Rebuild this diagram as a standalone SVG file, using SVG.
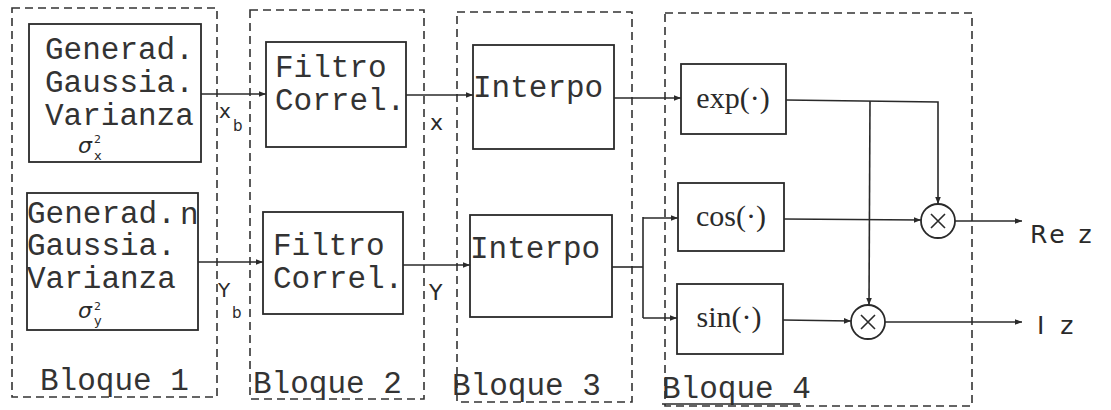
<svg xmlns="http://www.w3.org/2000/svg" width="1111" height="410" viewBox="0 0 1111 410">
<defs>
<style>
.blk{fill:none;stroke:#333;stroke-width:1.6;stroke-dasharray:8 5}
.box{fill:none;stroke:#2a2a2a;stroke-width:1.8}
.ln{fill:none;stroke:#2a2a2a;stroke-width:1.6}
.mono{font-family:"Liberation Mono","DejaVu Sans Mono",monospace;font-size:31px;fill:#333}
.math{font-family:"Liberation Serif","DejaVu Serif",serif;font-size:30px;fill:#2a2a2a}
.hand{font-family:"DejaVu Sans",sans-serif;fill:#2a2a2a}
</style>
<marker id="ah" viewBox="0 0 10 10" refX="10" refY="5" markerWidth="9" markerHeight="7" orient="auto" markerUnits="userSpaceOnUse">
<path d="M0,1 L10,5 L0,9 Z" fill="#2a2a2a"/>
</marker>
</defs>
<rect width="1111" height="410" fill="#ffffff"/>

<g id="bloque1">
<rect class="blk" x="12" y="8" width="205" height="389"/>
<text class="mono" x="40" y="390">Bloque 1</text>
</g>
<g id="bloque2">
<rect class="blk" x="250" y="10" width="174" height="389"/>
<text class="mono" x="253" y="393">Bloque 2</text>
</g>
<g id="bloque3">
<rect class="blk" x="457" y="12" width="175" height="390"/>
<text class="mono" x="452" y="395">Bloque 3</text>
</g>
<g id="bloque4">
<rect class="blk" x="665" y="13" width="307" height="393"/>
<text class="mono" x="662" y="398">Bloque 4</text>
<line class="ln" x1="662" y1="404" x2="800" y2="404" stroke-width="1.2"/>
</g>

<g id="gen1">
<rect class="box" x="29" y="24" width="172" height="138"/>
<text class="mono" x="45" y="59">Generad.</text>
<text class="mono" x="45" y="92">Gaussia.</text>
<text class="mono" x="45" y="125">Varianza</text>
<text class="hand" x="78" y="153" font-size="22" font-style="italic">σ<tspan dx="2" dy="-10" font-size="11" font-style="normal">2</tspan><tspan dx="-7" dy="17" font-size="13" font-style="normal">x</tspan></text>
</g>
<g id="gen2">
<rect class="box" x="27" y="193" width="171" height="137"/>
<text class="mono" x="27" y="223">Generad.</text>
<text class="mono" x="27" y="255">Gaussia.</text>
<text class="mono" x="27" y="288">Varianza</text>
<text class="mono" x="180" y="224" font-size="24">n</text>
<text class="hand" x="78" y="318" font-size="22" font-style="italic">σ<tspan dx="2" dy="-8" font-size="11" font-style="normal">2</tspan><tspan dx="-7" dy="15" font-size="13" font-style="normal">y</tspan></text>
</g>

<g id="filtro1">
<rect class="box" x="266" y="42" width="140" height="105"/>
<text class="mono" x="275" y="77">Filtro</text>
<text class="mono" x="275" y="110">Correl.</text>
</g>
<g id="filtro2">
<rect class="box" x="263" y="212" width="140" height="102"/>
<text class="mono" x="273" y="255">Filtro</text>
<text class="mono" x="273" y="288">Correl.</text>
</g>

<g id="interp1">
<rect class="box" x="473" y="45" width="141" height="104"/>
<text class="mono" x="473" y="97">Interpo</text>
</g>
<g id="interp2">
<rect class="box" x="470" y="215" width="142" height="102"/>
<text class="mono" x="470" y="258">Interpo</text>
</g>

<g id="exp">
<rect class="box" x="681" y="64" width="105" height="70"/>
<text class="math" x="733" y="108" text-anchor="middle">exp(·)</text>
</g>
<g id="cos">
<rect class="box" x="678" y="183" width="106" height="68"/>
<text class="math" x="731" y="226" text-anchor="middle">cos(·)</text>
</g>
<g id="sin">
<rect class="box" x="677" y="284" width="106" height="70"/>
<text class="math" x="729" y="327" text-anchor="middle">sin(·)</text>
</g>

<g id="mult1">
<circle class="box" cx="938" cy="221" r="17"/>
<path class="ln" d="M931,214 L945,228 M945,214 L931,228" stroke-width="1.3"/>
</g>
<g id="mult2">
<circle class="box" cx="868" cy="322" r="17"/>
<path class="ln" d="M861,315 L875,329 M875,315 L861,329" stroke-width="1.3"/>
</g>

<g id="labels">
<text class="hand" x="219" y="118" font-size="20">x</text>
<text class="hand" x="233" y="131" font-size="15">b</text>
<text class="hand" x="218" y="297" font-size="20">Y</text>
<text class="hand" x="232" y="318" font-size="15">b</text>
<text class="hand" x="430" y="130" font-size="22">x</text>
<text class="hand" x="429" y="300" font-size="22">Y</text>
<text class="hand" x="1030" y="243" font-size="25" letter-spacing="3">Re z</text>
<text class="hand" x="1037" y="334" font-size="25" letter-spacing="4">I z</text>
</g>

<g id="connectors">
<line class="ln" x1="201" y1="94" x2="266" y2="94" marker-end="url(#ah)"/>
<line class="ln" x1="198" y1="262" x2="263" y2="262" marker-end="url(#ah)"/>
<line class="ln" x1="406" y1="95" x2="473" y2="95" marker-end="url(#ah)"/>
<line class="ln" x1="403" y1="265" x2="470" y2="265" marker-end="url(#ah)"/>
<line class="ln" x1="614" y1="98" x2="681" y2="98" marker-end="url(#ah)"/>
<polyline class="ln" points="612,267 643,267"/>
<line class="ln" x1="643" y1="217" x2="643" y2="318"/>
<line class="ln" x1="643" y1="218" x2="678" y2="218" marker-end="url(#ah)"/>
<line class="ln" x1="643" y1="318" x2="677" y2="318" marker-end="url(#ah)"/>
<polyline class="ln" points="786,100 938,102 938,204" marker-end="url(#ah)"/>
<line class="ln" x1="870" y1="101" x2="869" y2="305" marker-end="url(#ah)"/>
<line class="ln" x1="784" y1="219" x2="921" y2="220" marker-end="url(#ah)"/>
<line class="ln" x1="783" y1="320" x2="851" y2="321" marker-end="url(#ah)"/>
<line class="ln" x1="955" y1="221" x2="1022" y2="221" marker-end="url(#ah)"/>
<line class="ln" x1="885" y1="322" x2="1022" y2="322" marker-end="url(#ah)"/>
</g>
</svg>
